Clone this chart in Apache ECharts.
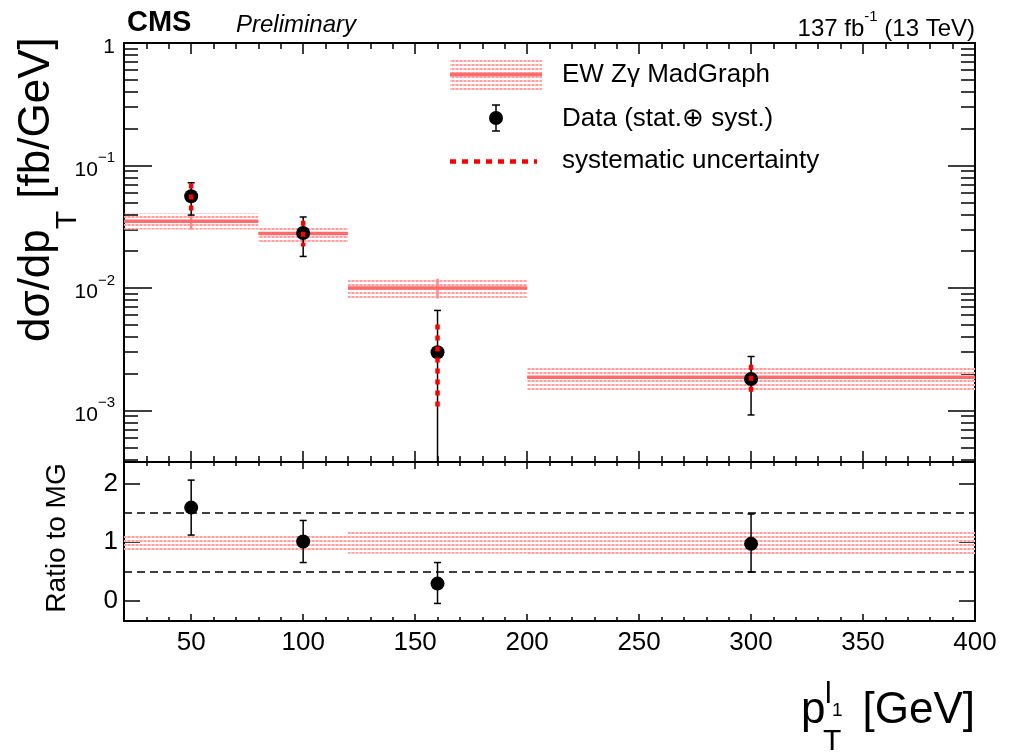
<!DOCTYPE html>
<html>
<head>
<meta charset="utf-8">
<script src="https://cdn.jsdelivr.net/npm/echarts@6/dist/echarts.min.js"></script>
<style>
  html, body { margin: 0; padding: 0; background: #fff; }
  #chart { width: 1011px; height: 756px; }
</style>
</head>
<body>
<div id="chart"></div>
<script>
// pT bins of the leading lepton (GeV)
const binEdges = [20, 80, 120, 200, 400];
const binCenters = [50, 100, 160, 300];

// EW Zgamma MadGraph prediction (fb/GeV) with its uncertainty band
const mcValues = [0.0351, 0.0278, 0.0100, 0.00187];
const mcLow = [0.0300, 0.0230, 0.0082, 0.00146];
const mcHigh = [0.0405, 0.0320, 0.0119, 0.00223];

// data, total (stat + syst) error
const dataValues = [0.0561, 0.0281, 0.00299, 0.00181];
const dataLow = [0.0394, 0.0181, -0.00046, 0.00092];
const dataHigh = [0.0723, 0.0380, 0.00656, 0.00276];

// systematic uncertainty only
const systLow = [0.0398, 0.0218, 0.00104, 0.00132];
const systHigh = [0.0713, 0.0354, 0.00504, 0.00236];

// ratio to MG
const ratioValues = [1.59, 1.01, 0.29, 0.97];
const ratioLow = [1.12, 0.65, -0.05, 0.49];
const ratioHigh = [2.06, 1.37, 0.65, 1.48];
const ratioBandLow = [0.84, 0.84, 0.80, 0.78];
const ratioBandHigh = [1.13, 1.13, 1.19, 1.20];
const ratioLines = [0.5, 1.5];

// ticks
const xMajorTicks = [50, 100, 150, 200, 250, 300, 350, 400];
const xMinorTicks = [30, 40, 60, 70, 80, 90, 110, 120, 130, 140, 160, 170, 180, 190,
  210, 220, 230, 240, 260, 270, 280, 290, 310, 320, 330, 340, 360, 370, 380, 390];
const yMajorTicks = [0.001, 0.01, 0.1, 1];
const yMinorTicks = [0.0004, 0.0005, 0.0006, 0.0007, 0.0008, 0.0009,
  0.002, 0.003, 0.004, 0.005, 0.006, 0.007, 0.008, 0.009,
  0.02, 0.03, 0.04, 0.05, 0.06, 0.07, 0.08, 0.09,
  0.2, 0.3, 0.4, 0.5, 0.6, 0.7, 0.8, 0.9];
const ratioTicks = [0, 1, 2];

const font = '"Liberation Sans", Arial, Helvetica, sans-serif';

// dotted pink fill like ROOT's hatch style: 2px rows of pink blocks, 2px white rows
function makePattern(dark, light) {
  const c = document.createElement('canvas');
  c.width = 4;
  c.height = 4;
  const ctx = c.getContext('2d');
  ctx.fillStyle = dark;
  ctx.fillRect(0, 0, 2, 2);
  ctx.fillStyle = light;
  ctx.fillRect(2, 0, 2, 2);
  return { image: c, repeat: 'repeat' };
}
const pinkBand = makePattern('rgb(255,160,160)', 'rgb(255,200,200)');

const measureCtx = document.createElement('canvas').getContext('2d');
function textWidth(str, f) {
  measureCtx.font = f;
  return measureCtx.measureText(str).width;
}

function renderBand(withLine) {
  return function (params, api) {
    const x0 = api.value(0), x1 = api.value(1), xc = api.value(2);
    const v = api.value(3), lo = api.value(4), hi = api.value(5);
    const a = api.coord([x0, hi]);
    const b = api.coord([x1, lo]);
    const children = [{
      type: 'rect',
      shape: { x: a[0], y: a[1], width: b[0] - a[0], height: b[1] - a[1] },
      style: { fill: pinkBand }
    }];
    if (withLine) {
      const l = api.coord([x0, v]), r = api.coord([x1, v]);
      const ct = api.coord([xc, hi]), cb = api.coord([xc, lo]);
      children.push({
        type: 'line',
        shape: { x1: ct[0], y1: ct[1], x2: cb[0], y2: cb[1] },
        style: { stroke: '#ff8a8a', lineWidth: 2.5 }
      });
      children.push({
        type: 'line',
        shape: { x1: l[0], y1: l[1], x2: r[0], y2: r[1] },
        style: { stroke: '#ff6b6b', lineWidth: 3.5 }
      });
    }
    return { type: 'group', children: children };
  };
}

function renderErr(cap, color, width, dash) {
  return function (params, api) {
    const cs = params.coordSys;
    const x = api.value(0), lo = api.value(1), hi = api.value(2);
    const top = api.coord([x, hi]);
    let bot = api.coord([x, lo]);
    let botCap = true;
    if (!isFinite(bot[1]) || bot[1] > cs.y + cs.height) {
      bot = [top[0], cs.y + cs.height];
      botCap = false;
    }
    const style = { stroke: color, lineWidth: width };
    if (dash) style.lineDash = dash;
    const children = [{
      type: 'line',
      shape: { x1: top[0], y1: top[1], x2: bot[0], y2: bot[1] },
      style: style
    }];
    if (cap) {
      children.push({ type: 'line', shape: { x1: top[0] - cap, y1: top[1], x2: top[0] + cap, y2: top[1] },
        style: { stroke: color, lineWidth: width } });
      if (botCap) {
        children.push({ type: 'line', shape: { x1: bot[0] - cap, y1: bot[1], x2: bot[0] + cap, y2: bot[1] },
          style: { stroke: color, lineWidth: width } });
      }
    }
    return { type: 'group', children: children };
  };
}

function xAxisCfg(grid, pos, ticks, len, labels) {
  return {
    type: 'value', gridIndex: grid, position: pos, min: 20, max: 400,
    axisLine: { show: false, onZero: false }, splitLine: { show: false },
    axisTick: { show: true, inside: true, length: len, customValues: ticks,
      lineStyle: { color: '#000', width: 1.5 } },
    axisLabel: labels ? {
      show: true, customValues: ticks, margin: 9, color: '#000',
      fontSize: 26, fontFamily: font
    } : { show: false }
  };
}

function logAxisCfg(pos, ticks, len, labels) {
  return {
    type: 'log', logBase: 10, gridIndex: 0, position: pos, min: 0.00038, max: 1,
    axisLine: { show: false, onZero: false }, splitLine: { show: false },
    axisTick: { show: true, inside: true, length: len, customValues: ticks,
      lineStyle: { color: '#000', width: 1.5 } },
    axisLabel: labels ? {
      show: true, customValues: ticks, margin: 9, color: '#000',
      formatter: function (v) {
        if (Math.abs(v - 1) < 1e-9) return '{b|1}';
        return '{b|10}{s|\u2212' + Math.round(-Math.log10(v)) + '}';
      },
      rich: {
        b: { fontSize: 21, fontFamily: font, color: '#000', lineHeight: 30, verticalAlign: 'bottom' },
        s: { fontSize: 15, fontFamily: font, color: '#000', lineHeight: 15, verticalAlign: 'top' }
      }
    } : { show: false }
  };
}

function ratioAxisCfg(pos, labels) {
  return {
    type: 'value', gridIndex: 1, position: pos, min: -0.35, max: 2.37,
    axisLine: { show: false, onZero: false }, splitLine: { show: false },
    axisTick: { show: true, inside: true, length: 16, customValues: ratioTicks,
      lineStyle: { color: '#000', width: 1.5 } },
    axisLabel: labels ? {
      show: true, customValues: ratioTicks, margin: 6, color: '#000',
      fontSize: 26, fontFamily: font
    } : { show: false }
  };
}

const mcRows = mcValues.map((v, i) => [binEdges[i], binEdges[i + 1], binCenters[i], v, mcLow[i], mcHigh[i]]);
const ratioBandRows = ratioBandLow.map((lo, i) => [binEdges[i], binEdges[i + 1], binCenters[i], 1, lo, ratioBandHigh[i]]);
const errRows = binCenters.map((x, i) => [x, dataLow[i], dataHigh[i]]);
const systRows = binCenters.map((x, i) => [x, systLow[i], systHigh[i]]);
const ratioErrRows = binCenters.map((x, i) => [x, ratioLow[i], ratioHigh[i]]);

// text pieces for titles
const f44 = '44px ' + font;
const f30 = '30px ' + font;
const wD = textWidth('d\u03c3/dp', f44);
const wT = textWidth('T', f30);

function txt(x, y, text, f, align, extra) {
  const style = Object.assign({
    text: text, font: f, fill: '#000',
    align: align, textAlign: align, verticalAlign: 'middle', textVerticalAlign: 'middle'
  }, extra || {});
  return { type: 'text', x: x, y: y, style: style, silent: true };
}

const graphics = [
  txt(127, 23, 'CMS', 'bold 29px ' + font, 'left'),
  txt(236, 25, 'Preliminary', 'italic 24px ' + font, 'left'),
  {
    type: 'text', x: 975, y: 25, silent: true,
    style: {
      text: '{n|137 fb}{s|-1}{n| (13 TeV)}', align: 'right', textAlign: 'right',
      verticalAlign: 'middle', textVerticalAlign: 'middle',
      rich: {
        n: { fontSize: 24, fontFamily: font, fill: '#000', lineHeight: 32, verticalAlign: 'bottom' },
        s: { fontSize: 15, fontFamily: font, fill: '#000', lineHeight: 15, verticalAlign: 'top' }
      }
    }
  },
  // legend
  { type: 'rect', shape: { x: 450, y: 59, width: 92, height: 31 }, style: { fill: pinkBand }, silent: true },
  { type: 'line', shape: { x1: 450, y1: 74.5, x2: 542, y2: 74.5 }, style: { stroke: '#ff6b6b', lineWidth: 3.5 }, silent: true },
  { type: 'line', shape: { x1: 496, y1: 105, x2: 496, y2: 131 }, style: { stroke: '#000', lineWidth: 1.5 }, silent: true },
  { type: 'line', shape: { x1: 492, y1: 105, x2: 500, y2: 105 }, style: { stroke: '#000', lineWidth: 1.5 }, silent: true },
  { type: 'line', shape: { x1: 492, y1: 131, x2: 500, y2: 131 }, style: { stroke: '#000', lineWidth: 1.5 }, silent: true },
  { type: 'circle', shape: { cx: 496, cy: 118, r: 7 }, style: { fill: '#000' }, silent: true },
  { type: 'line', shape: { x1: 450, y1: 161.5, x2: 537, y2: 161.5 }, style: { stroke: '#ff0000', lineWidth: 4.5, lineDash: [6, 6] }, silent: true },
  txt(562, 75, 'EW Z\u03b3 MadGraph', '26px ' + font, 'left'),
  txt(562, 119, 'Data (stat.\u2295 syst.)', '26px ' + font, 'left'),
  txt(562, 161, 'systematic uncertainty', '26px ' + font, 'left'),
  // y title, upper panel
  {
    type: 'group', x: 37, y: 342, rotation: Math.PI / 2, silent: true,
    children: [
      txt(0, 0, 'd\u03c3/dp', f44, 'left'),
      txt(wD, 31, 'T', f30, 'left'),
      txt(wD + wT, 0, ' [fb/GeV]', f44, 'left')
    ]
  },
  // y title, ratio panel
  {
    type: 'group', x: 57, y: 538, rotation: Math.PI / 2, silent: true,
    children: [txt(0, 0, 'Ratio to MG', '28px ' + font, 'center')]
  },
  // x title
  txt(801, 711, 'p', f44, 'left'),
  txt(823, 742, 'T', f30, 'left'),
  txt(825, 695, 'l', f30, 'left'),
  txt(832, 711, '1', '19px ' + font, 'left'),
  txt(975, 711, '[GeV]', f44, 'right')
];

const chart = echarts.init(document.getElementById('chart'));

const option = {
  backgroundColor: '#fff',
  animation: false,
  grid: [
    { left: 124, top: 43, width: 851, height: 419, show: true, borderColor: '#000', borderWidth: 2, backgroundColor: 'transparent' },
    { left: 124, top: 462, width: 851, height: 159, show: true, borderColor: '#000', borderWidth: 2, backgroundColor: 'transparent' }
  ],
  xAxis: [
    xAxisCfg(0, 'bottom', xMajorTicks, 11, false),
    xAxisCfg(0, 'bottom', xMinorTicks, 6, false),
    xAxisCfg(0, 'top', xMajorTicks, 11, false),
    xAxisCfg(0, 'top', xMinorTicks, 6, false),
    xAxisCfg(1, 'bottom', xMajorTicks, 7, true),
    xAxisCfg(1, 'bottom', xMinorTicks, 4, false),
    xAxisCfg(1, 'top', xMajorTicks, 7, false),
    xAxisCfg(1, 'top', xMinorTicks, 4, false)
  ],
  yAxis: [
    logAxisCfg('left', yMajorTicks, 28, true),
    logAxisCfg('left', yMinorTicks, 14, false),
    logAxisCfg('right', yMajorTicks, 27, false),
    logAxisCfg('right', yMinorTicks, 14, false),
    ratioAxisCfg('left', true),
    ratioAxisCfg('right', false)
  ],
  graphic: { elements: graphics },
  series: [
    {
      name: 'EW Z\u03b3 MadGraph', type: 'custom', xAxisIndex: 0, yAxisIndex: 0, z: 1,
      renderItem: renderBand(true), encode: { x: [0, 1], y: [4, 5] }, data: mcRows, silent: true
    },
    {
      name: 'Data total', type: 'custom', xAxisIndex: 0, yAxisIndex: 0, z: 2,
      renderItem: renderErr(3.5, '#000', 1.5, null), encode: { x: 0, y: 2 }, data: errRows, silent: true
    },
    {
      name: 'Data', type: 'scatter', xAxisIndex: 0, yAxisIndex: 0, z: 3,
      symbol: 'circle', symbolSize: 14, itemStyle: { color: '#000', opacity: 1 },
      data: binCenters.map((x, i) => [x, dataValues[i]]), silent: true
    },
    {
      name: 'systematic uncertainty', type: 'custom', xAxisIndex: 0, yAxisIndex: 0, z: 4,
      renderItem: renderErr(0, '#ff0000', 4.5, [5, 6]), encode: { x: 0, y: 2 }, data: systRows, silent: true
    },
    {
      name: 'MG band ratio', type: 'custom', xAxisIndex: 4, yAxisIndex: 4, z: 1,
      renderItem: renderBand(false), encode: { x: [0, 1], y: [4, 5] }, data: ratioBandRows, silent: true
    },
    {
      name: 'Ratio error', type: 'custom', xAxisIndex: 4, yAxisIndex: 4, z: 2,
      renderItem: renderErr(3.5, '#000', 1.5, null), encode: { x: 0, y: [1, 2] }, data: ratioErrRows, silent: true
    },
    {
      name: 'Ratio', type: 'scatter', xAxisIndex: 4, yAxisIndex: 4, z: 3,
      symbol: 'circle', symbolSize: 14, itemStyle: { color: '#000', opacity: 1 },
      data: binCenters.map((x, i) => [x, ratioValues[i]]), silent: true,
      markLine: {
        silent: true, symbol: 'none', label: { show: false },
        lineStyle: { color: '#000', width: 1.5, type: [8, 5] },
        data: ratioLines.map(v => ({ yAxis: v }))
      }
    }
  ]
};

chart.setOption(option);
</script>
</body>
</html>
